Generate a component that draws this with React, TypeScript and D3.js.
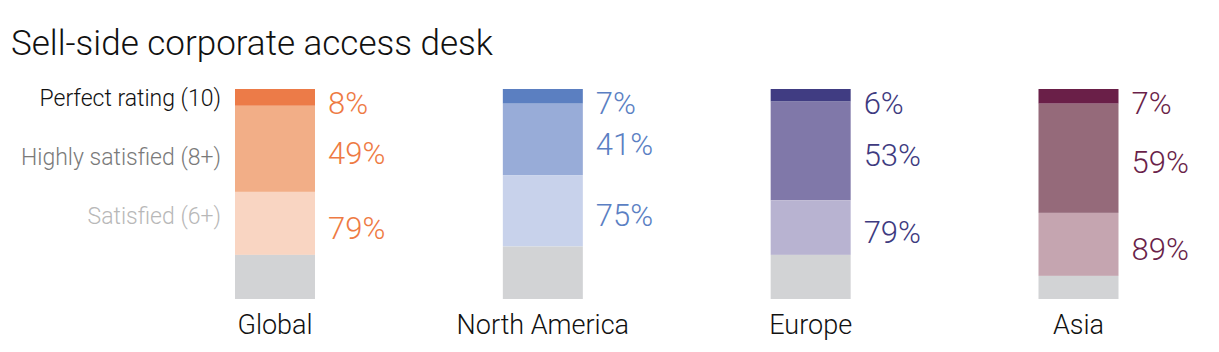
import React from "react";
import * as d3 from "d3";

const categories = ["Global", "North America", "Europe", "Asia"];
const perfect = [8, 7, 6, 7];
const highlySatisfied = [49, 41, 53, 59];
const satisfied = [79, 75, 79, 89];
const seriesNames = ["Perfect rating (10)", "Highly satisfied (8+)", "Satisfied (6+)"];
const seriesNameColors = ["#111111", "#7a7a7a", "#b8b8b8"];

const palettes = [
  ["#EC7B48", "#F2AE87", "#F9D5C2"],
  ["#5B7FC1", "#98ACD8", "#C8D2EB"],
  ["#403C82", "#8078A9", "#B8B3D1"],
  ["#6A1F48", "#956A7A", "#C5A5B0"],
];
const labelColors = ["#EE7A43", "#5B7FC3", "#3E3A80", "#6A1F4A"];
const restColor = "#D2D3D5";

const W = 1219;
const H = 352;
const FONT = "Roboto, 'Noto Sans', sans-serif";

export default function App() {
  const x = d3.scalePoint<string>().domain(categories).range([275, 1078.5]);
  const y = d3.scaleLinear().domain([0, 100]).range([89, 299]);
  const barW = 80;

  return (
    <svg
      width={W}
      height={H}
      style={{ position: "absolute", left: 0, top: 0, background: "#fff" }}
      fontFamily={FONT}
    >
      <text x={11} y={55} fontSize={35} fill="#111" fontWeight={300}>
        Sell-side corporate access desk
      </text>

      {seriesNames.map((name, i) => (
        <text
          key={name}
          x={221}
          y={98 + i * 59}
          dy="0.36em"
          textAnchor="end"
          fontSize={23}
          fontWeight={300}
          fill={seriesNameColors[i]}
        >
          {name}
        </text>
      ))}

      {categories.map((cat, ci) => {
        const cx = x(cat) as number;
        const x0 = cx - barW / 2;
        const cuts = [0, perfect[ci], highlySatisfied[ci], satisfied[ci], 100];
        const fills = [...palettes[ci], restColor];
        return (
          <g key={cat}>
            {fills.map((f, si) => (
              <rect
                key={si}
                x={x0}
                y={y(cuts[si])}
                width={barW}
                height={y(cuts[si + 1]) - y(cuts[si])}
                fill={f}
              />
            ))}
            {[perfect[ci], highlySatisfied[ci], satisfied[ci]].map((v, si) => {
              const mid = (y(cuts[si]) + y(cuts[si + 1])) / 2;
              const cy = si === 0 ? Math.max(mid, y(0) + 14) : mid + 4;
              return (
                <text
                  key={si}
                  x={x0 + barW + 13}
                  y={cy}
                  dy="0.36em"
                  fontSize={31}
                  fontWeight={300}
                  fill={labelColors[ci]}
                >
                  {v}%
                </text>
              );
            })}
            <text
              x={cx}
              y={334}
              textAnchor="middle"
              fontSize={27}
              fontWeight={300}
              fill="#111"
            >
              {cat}
            </text>
          </g>
        );
      })}
    </svg>
  );
}
